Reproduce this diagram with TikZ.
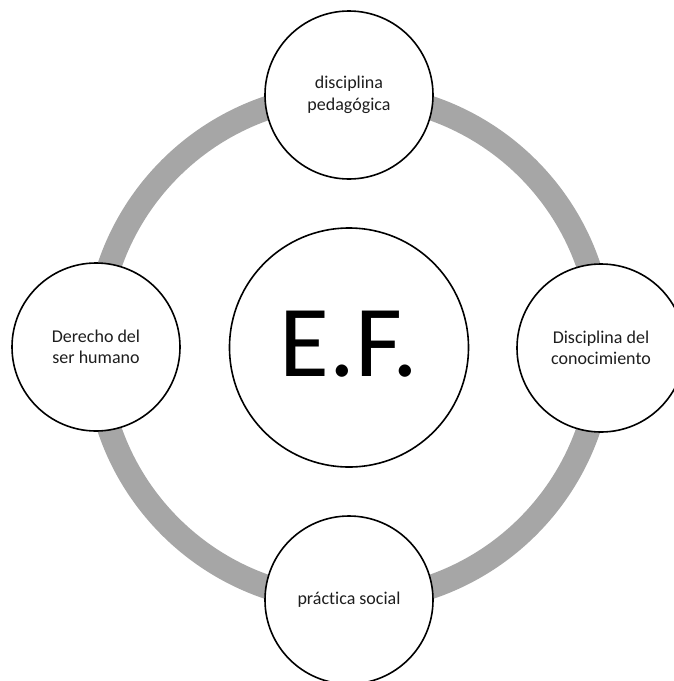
\documentclass[tikz,border=0pt]{standalone}
\usepackage{fontspec}
\setmainfont{Carlito}[Ligatures=NoCommon]
\definecolor{ringgray}{RGB}{166,166,166}
\definecolor{txt}{RGB}{30,30,30}
\begin{document}
\begin{tikzpicture}[x=1pt,y=-1pt,
  small/.style={circle,draw=black,line width=1.6pt,fill=white,minimum size=168pt,inner sep=0pt,align=center,font=\fontsize{18}{21.5}\selectfont,text=txt},
  big/.style={circle,draw=black,line width=1.6pt,fill=white,minimum size=239pt,inner sep=0pt},
  ring/.style={draw=ringgray,line width=24pt}]
\useasboundingbox (0,0) rectangle (674,681);
\coordinate (c) at (349,347.5);
\draw[ring] (c) circle[radius=253];
\node[big] (ef) at (c) {};
\node[font=\fontsize{102}{110}\selectfont,text=black] (eftext) at (349,344) {E.F.};
\node[small] (top) at (349,95) {disciplina\\pedagógica};
\node[small] (left) at (96,347) {Derecho del\\ser humano};
\node[small] (right) at (601,348) {Disciplina del\\conocimiento};
\node[small] (bottom) at (349,600) {práctica social};
\end{tikzpicture}
\end{document}
